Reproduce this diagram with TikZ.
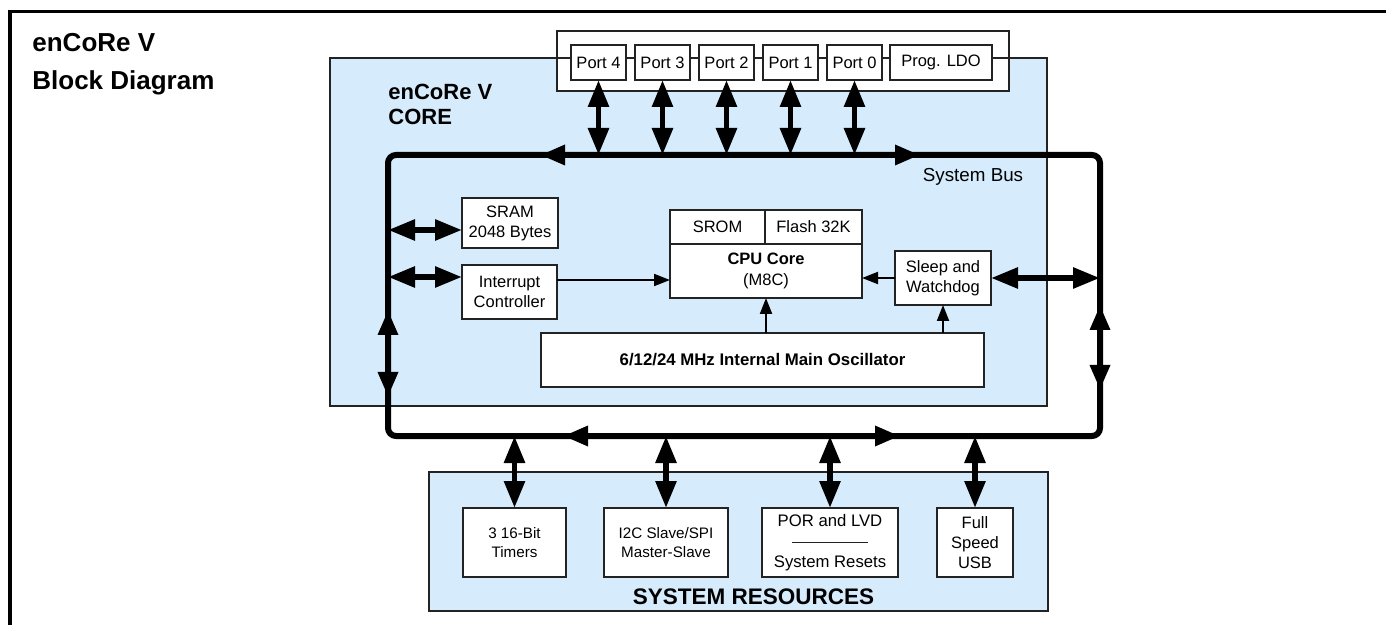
\documentclass[tikz,border=0pt]{standalone}
\usepackage{fontspec}
\setmainfont{Liberation Sans}
\usepackage{tikz}
\usetikzlibrary{arrows.meta, positioning, calc}
\definecolor{coreblue}{RGB}{214, 235, 252}
\definecolor{edge}{RGB}{35, 35, 35}

\begin{document}
\begin{tikzpicture}[x=0.5pt, y=-0.5pt,
    blk/.style={draw=edge, line width=0.8pt, fill=white, inner sep=0pt, outer sep=0pt,
      align=center, font=\fontsize{8.25}{10}\selectfont},
    small/.style={font=\fontsize{7.6}{9.25}\selectfont},
    area/.style={draw=edge, line width=0.8pt, fill=coreblue, inner sep=0pt, outer sep=0pt},
    bus/.style={line width=3pt, rounded corners=4pt},
    dbl/.style={line width=2.85pt, {Triangle[length=13.5pt, width=10pt]}-{Triangle[length=13.5pt, width=10pt]}},
    sig/.style={line width=1pt, -{Triangle[length=8pt, width=6pt]}},
    head/.style={line width=3pt, -{Triangle[length=12.5pt, width=9.5pt]}}]

  \useasboundingbox (0, 0) rectangle (1386, 625);
  \draw[line width=1.8pt] (1386, 11.5) -- (10, 11.5) -- (10, 625);

  \node[anchor=base west, inner sep=0pt, font=\fontsize{13}{15}\selectfont\bfseries] (title) at (32, 52) {enCoRe V};
  \node[anchor=base west, inner sep=0pt, font=\fontsize{13}{15}\selectfont\bfseries] (subtitle) at (32, 90) {Block Diagram};

  \node[area, minimum width=358.5pt, minimum height=174pt] (core) at (688.5, 232) {};
  \node[blk, minimum width=226pt, minimum height=30pt] (portbar) at (783, 61) {};
  \draw[draw=edge, line width=0.8pt] (core.north west) -- (core.north east);
  \node[anchor=north west, inner sep=0pt, align=left, font=\fontsize{11}{12.5}\selectfont\bfseries] (corename) at (388, 84) {enCoRe V\\CORE};

  \node[blk, minimum width=27.5pt, minimum height=17.5pt] (p4) at (598.5, 62.5) {Port 4};
  \node[blk, minimum width=27.5pt, minimum height=17.5pt, right=4.5pt of p4] (p3) {Port 3};
  \node[blk, minimum width=27.5pt, minimum height=17.5pt, right=4.5pt of p3] (p2) {Port 2};
  \node[blk, minimum width=27.5pt, minimum height=17.5pt, right=4.5pt of p2] (p1) {Port 1};
  \node[blk, minimum width=27.5pt, minimum height=17.5pt, right=4.5pt of p1] (p0) {Port 0};
  \node[blk, minimum width=51pt, minimum height=17.5pt, right=4pt of p0] (ldo) {Prog. LDO};

  \node[blk, minimum width=48pt, minimum height=25pt] (sram) at (510, 223) {SRAM\\2048 Bytes};
  \node[blk, minimum width=47.5pt, minimum height=27pt] (intr) at (509.5, 292) {Interrupt\\Controller};
  \node[blk, minimum width=96pt, minimum height=27pt, font=\fontsize{8.25}{10.5}\selectfont] (cpu) at (766, 271) {\textbf{CPU Core}\\(M8C)};
  \node[blk, minimum width=47.5pt, minimum height=17pt, anchor=south west] (srom) at (cpu.north west) {SROM};
  \node[blk, minimum width=48.5pt, minimum height=17pt, anchor=south east] (flash) at (cpu.north east) {Flash 32K};
  \node[blk, minimum width=48pt, minimum height=27pt] (sleep) at (943, 278) {Sleep and\\Watchdog};
  \node[blk, minimum width=221.5pt, minimum height=27pt, font=\fontsize{8.4}{10}\selectfont\bfseries] (osc) at (762.5, 360) {6/12/24 MHz Internal Main Oscillator};

  \node[anchor=base, inner sep=0pt, font=\fontsize{9.4}{11}\selectfont] (busname) at (973, 182) {System Bus};

  \node[area, minimum width=309.5pt, minimum height=69.5pt] (sysres) at (738.5, 541.5) {};
  \node[anchor=base, inner sep=0pt, font=\fontsize{11.25}{13}\selectfont\bfseries] (sysname) at (753.5, 604) {SYSTEM RESOURCES};
  \node[blk, small, minimum width=51.5pt, minimum height=34.5pt] (tmr) at (514.5, 542.5) {3 16-Bit\\Timers};
  \node[blk, small, minimum width=62pt, minimum height=34.5pt] (i2c) at (666, 542.5) {I2C Slave/SPI\\Master-Slave};
  \node[blk, minimum width=68pt, minimum height=34.5pt, font=\fontsize{8.35}{20.5}\selectfont] (por) at (830, 542.5) {POR and LVD\\System Resets};
  \draw[edge, line width=0.75pt] ($(por.center)+(-38, 0)$) -- ($(por.center)+(38, 0)$);
  \node[blk, minimum width=38pt, minimum height=34.5pt] (usb) at (975, 542.5) {Full\\Speed\\USB};

  \coordinate (busnw) at (388, 155);
  \coordinate (busse) at (1100, 436);
  \coordinate (busne) at (busse |- busnw);
  \coordinate (bussw) at (busnw |- busse);

  \foreach \p in {p4, p3, p2, p1, p0}
    \draw[dbl] (\p.south) -- (\p.south |- busnw);
  \foreach \b in {tmr, i2c, por, usb}
    \draw[dbl] (\b.north |- busse) -- (\b.north);

  \coordinate (sramlink) at ($(sram.west)+(0, 7)$);
  \coordinate (intrlink) at ($(intr.west)+(0, -15)$);
  \coordinate (cpulink) at ($(intr.east)+(0, -12)$);
  \draw[dbl] (busnw |- sramlink) -- (sramlink);
  \draw[dbl] (busnw |- intrlink) -- (intrlink);
  \draw[sig] (cpulink) -- (cpu.west |- cpulink);
  \draw[sig] (sleep.west) -- (cpu.east |- sleep.west);
  \draw[dbl] (busne |- sleep.east) -- (sleep.east);
  \draw[sig] (cpu.south |- osc.north) -- (cpu.south);
  \draw[sig] (sleep.south |- osc.north) -- (sleep.south);

  \draw[bus] (busnw) rectangle (busse);
  \draw[head] ($(busnw)+(176, 0)$) -- ($(busnw)+(152, 0)$);
  \draw[head] ($(busnw)+(508, 0)$) -- ($(busnw)+(532, 0)$);
  \draw[head] ($(bussw)+(199, 0)$) -- ($(bussw)+(175, 0)$);
  \draw[head] ($(bussw)+(488, 0)$) -- ($(bussw)+(512, 0)$);
  \draw[head] ($(busnw)+(0, 179)$) -- ($(busnw)+(0, 155)$);
  \draw[head] ($(busnw)+(0, 218)$) -- ($(busnw)+(0, 242)$);
  \draw[head] ($(busne)+(0, 174)$) -- ($(busne)+(0, 150)$);
  \draw[head] ($(busne)+(0, 211)$) -- ($(busne)+(0, 235)$);
\end{tikzpicture}
\end{document}
